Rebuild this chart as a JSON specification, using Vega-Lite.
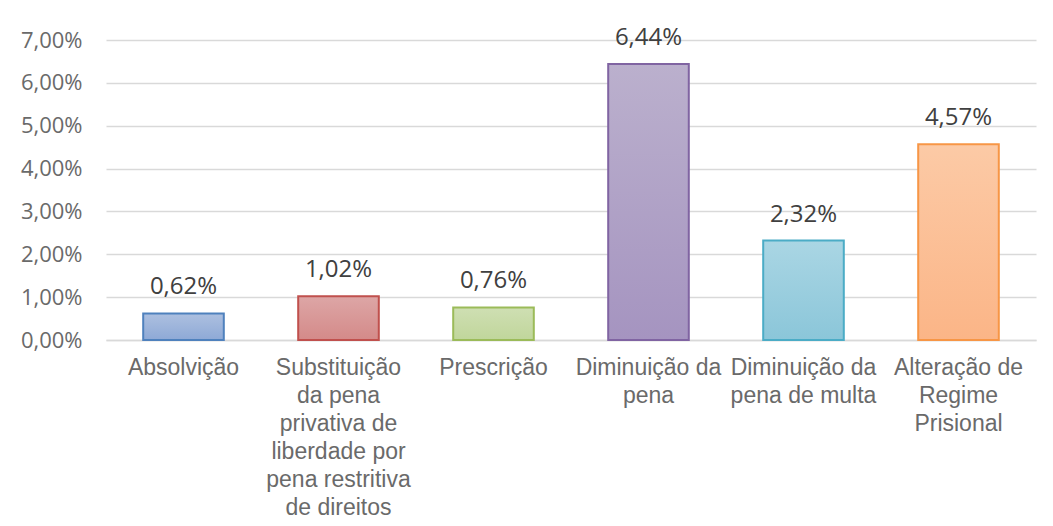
{
  "$schema": "https://vega.github.io/schema/vega-lite/v6.json",
  "autosize": {"type": "none"},
  "width": 930,
  "height": 300,
  "padding": {"left": 106, "top": 40, "right": 17, "bottom": 186},
  "background": "white",
  "config": {
    "locale": {"number": {"decimal": ",", "thousands": ".", "grouping": [3], "currency": ["R$", ""]}},
    "view": {"stroke": null}
  },
  "data": {
    "values": [
      {"categoria": "Absolvição", "valor": 0.0062},
      {"categoria": "Substituição da pena privativa de liberdade por pena restritiva de direitos", "valor": 0.0102},
      {"categoria": "Prescrição", "valor": 0.0076},
      {"categoria": "Diminuição da pena", "valor": 0.0644},
      {"categoria": "Diminuição da pena de multa", "valor": 0.0232},
      {"categoria": "Alteração de Regime Prisional", "valor": 0.0457}
    ]
  },
  "encoding": {
    "x": {
      "field": "categoria",
      "type": "nominal",
      "sort": null,
      "scale": {"paddingInner": 0.48, "paddingOuter": 0.24},
      "axis": {
        "title": null,
        "labelAngle": 0,
        "labelFont": "Liberation Sans",
        "labelFontSize": 23,
        "labelColor": "#6a6a6a",
        "labelLineHeight": 28,
        "labelPadding": 16,
        "labelOverlap": false,
        "labelLimit": 0,
        "labelBound": false,
        "ticks": false,
        "domainColor": "#d9d9d9",
        "domainWidth": 1.5,
        "labelExpr": "datum.value == 'Substituição da pena privativa de liberdade por pena restritiva de direitos' ? ['Substituição', 'da pena', 'privativa de', 'liberdade por', 'pena restritiva', 'de direitos'] : datum.value == 'Diminuição da pena' ? ['Diminuição da', 'pena'] : datum.value == 'Diminuição da pena de multa' ? ['Diminuição da', 'pena de multa'] : datum.value == 'Alteração de Regime Prisional' ? ['Alteração de', 'Regime', 'Prisional'] : datum.value"
      }
    },
    "y": {
      "field": "valor",
      "type": "quantitative",
      "scale": {"domain": [0, 0.07], "nice": false},
      "axis": {
        "title": null,
        "format": ".2%",
        "values": [0, 0.01, 0.02, 0.03, 0.04, 0.05, 0.06, 0.07],
        "labelFont": "Open Sans",
        "labelFontSize": 22,
        "labelColor": "#6a6a6a",
        "labelPadding": 24,
        "domain": false,
        "ticks": false,
        "gridColor": "#d9d9d9",
        "gridWidth": 1.5
      }
    }
  },
  "layer": [
    {
      "mark": {"type": "bar", "strokeWidth": 2},
      "encoding": {
        "stroke": {
          "field": "categoria",
          "type": "nominal",
          "sort": null,
          "legend": null,
          "scale": {"range": ["#4f81bd", "#c0504d", "#9bbb59", "#8064a2", "#4bacc6", "#f79646"]}
        },
        "fill": {
          "condition": [
            {"test": "datum.categoria == 'Absolvição'", "value": {"gradient": "linear", "x1": 0, "y1": 0, "x2": 0, "y2": 1, "stops": [{"offset": 0, "color": "#adc0e0"}, {"offset": 1, "color": "#8ea9d6"}]}},
            {"test": "indexof(datum.categoria, 'Substituição') == 0", "value": {"gradient": "linear", "x1": 0, "y1": 0, "x2": 0, "y2": 1, "stops": [{"offset": 0, "color": "#dda6a6"}, {"offset": 1, "color": "#d48a89"}]}},
            {"test": "datum.categoria == 'Prescrição'", "value": {"gradient": "linear", "x1": 0, "y1": 0, "x2": 0, "y2": 1, "stops": [{"offset": 0, "color": "#cfdfb3"}, {"offset": 1, "color": "#c0d69b"}]}},
            {"test": "datum.categoria == 'Diminuição da pena'", "value": {"gradient": "linear", "x1": 0, "y1": 0, "x2": 0, "y2": 1, "stops": [{"offset": 0, "color": "#bbb0cd"}, {"offset": 1, "color": "#a594c0"}]}},
            {"test": "datum.categoria == 'Diminuição da pena de multa'", "value": {"gradient": "linear", "x1": 0, "y1": 0, "x2": 0, "y2": 1, "stops": [{"offset": 0, "color": "#aad6e4"}, {"offset": 1, "color": "#8bc6d9"}]}}
          ],
          "value": {"gradient": "linear", "x1": 0, "y1": 0, "x2": 0, "y2": 1, "stops": [{"offset": 0, "color": "#fccaa6"}, {"offset": 1, "color": "#fbb587"}]}
        }
      }
    },
    {
      "mark": {"type": "text", "baseline": "alphabetic", "dy": -19, "font": "Open Sans", "fontSize": 24, "color": "#404040"},
      "encoding": {
        "text": {"field": "valor", "type": "quantitative", "format": ".2%"}
      }
    }
  ]
}
